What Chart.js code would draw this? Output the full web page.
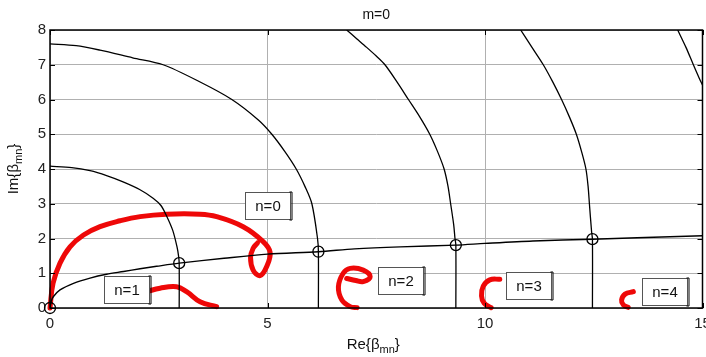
<!DOCTYPE html>
<html><head><meta charset="utf-8">
<script src="https://cdn.jsdelivr.net/npm/chart.js@4.4.1/dist/chart.umd.min.js"></script>
<style>html,body{margin:0;padding:0;background:#fff}#wrap{width:706px;height:357px}</style>
</head><body><div id="wrap"><canvas id="c" width="706" height="357"></canvas></div>
<script>
// ---- data ----
const titleText = 'm=0';
const xTicks = [0, 5, 10, 15];
const yTicks = [0, 1, 2, 3, 4, 5, 6, 7, 8];

const lowerX = [0, 0.03, 0.08, 0.23, 0.54, 0.92, 1.3, 1.69, 2.07, 2.45, 2.97, 4, 5, 6.17, 7, 8.05, 9.33, 10, 11.1, 12.47, 13.5, 15];
const lowerY = [0, 0.2, 0.33, 0.52, 0.71, 0.86, 0.97, 1.05, 1.13, 1.2, 1.29, 1.43, 1.55, 1.62, 1.7, 1.76, 1.81, 1.86, 1.93, 1.98, 2.02, 2.08];

const arc1X = [0, 0.5, 0.92, 1.3, 1.68, 2.06, 2.37, 2.55, 2.68, 2.82, 2.92, 2.955, 2.97, 2.97];
const arc1Y = [4.08, 4.04, 3.95, 3.81, 3.63, 3.41, 3.16, 2.95, 2.65, 2.24, 1.76, 1.5, 1.29, 0];

const arc2X = [0, 0.6, 1.15, 1.9, 2.6, 3.44, 4.18, 4.79, 5.1, 5.4, 5.66, 5.86, 6.02, 6.15, 6.17, 6.17];
const arc2Y = [7.6, 7.55, 7.42, 7.2, 7.0, 6.51, 6.0, 5.41, 5.0, 4.5, 4.0, 3.5, 3.0, 2.0, 1.62, 0];

const arc3X = [6.82, 7.05, 7.28, 7.5, 7.70, 7.98, 8.24, 8.5, 8.73, 8.91, 9.06, 9.15, 9.21, 9.28, 9.31, 9.33, 9.33];
const arc3Y = [8, 7.75, 7.5, 7.25, 7.0, 6.5, 6.0, 5.5, 5.0, 4.5, 4.0, 3.5, 3.0, 2.4, 2.0, 1.81, 0];

const arc4X = [10.82, 11.08, 11.34, 11.56, 11.76, 11.94, 12.10, 12.22, 12.32, 12.37, 12.40, 12.45, 12.47, 12.47];
const arc4Y = [8, 7.5, 7.0, 6.5, 6.0, 5.5, 5.0, 4.5, 4.0, 3.5, 3.0, 2.2, 1.98, 0];

const arc5X = [14.43, 14.62, 14.79, 14.93, 15];
const arc5Y = [8, 7.5, 7.0, 6.6, 6.42];

const markX = [0, 2.97, 6.17, 9.33, 12.47];
const markY = [0, 1.29, 1.62, 1.81, 1.98];

const labelTexts = ['n=1', 'n=0', 'n=2', 'n=3', 'n=4'];
const labelX = [1.25, 4.48, 7.55, 10.48, 13.62];
const labelY = [0.54, 2.96, 0.80, 0.66, 0.47];

// red hand-drawn marks
const red1X = [0, 0.07, 0.23, 0.46, 0.77, 1.15, 1.61, 2.07, 2.68, 3.45, 3.83, 4.44, 4.9, 5.06, 4.98, 4.83, 4.67, 4.61, 4.67, 4.77];
const red1Y = [0, 0.71, 1.29, 1.76, 2.1, 2.34, 2.51, 2.63, 2.7, 2.7, 2.63, 2.34, 1.91, 1.6, 1.19, 0.93, 1.09, 1.45, 1.72, 1.87];
const red2X = [2.22, 2.53, 2.91, 3.14, 3.45, 3.83];
const red2Y = [0.47, 0.57, 0.61, 0.47, 0.18, 0.04];
const red3X = [6.82, 7.03, 7.20, 7.36, 7.20, 6.90, 6.74, 6.63, 6.71, 6.90, 7.06];
const red3Y = [0.85, 0.79, 0.76, 0.90, 1.09, 1.14, 1.0, 0.61, 0.23, 0.04, 0.01];
const red4X = [10.34, 10.11, 9.96, 9.92, 9.98, 10.14];
const red4Y = [0.83, 0.81, 0.63, 0.35, 0.14, 0.01];
const red5X = [13.41, 13.22, 13.14, 13.18, 13.29];
const red5Y = [0.47, 0.40, 0.23, 0.09, 0.02];

const xTitle = ['Re{\u03b2', 'mn', '}'];
const yTitle = ['Im{\u03b2', 'mn', '}'];

// ---- build ----
const pts = (xs, ys) => xs.map((x, i) => ({x: x, y: ys[i]}));
const FONT = '"Liberation Sans", Arial, sans-serif';

function blackLine(xs, ys, w, t) {
  return {data: pts(xs, ys), showLine: true, borderColor: '#000', borderWidth: w,
          pointRadius: 0, tension: t, fill: false};
}
function redLine(xs, ys) {
  return {data: pts(xs, ys), showLine: true, borderColor: 'rgb(238,8,8)', borderWidth: 5,
          pointRadius: 0, tension: 0.4, fill: false, borderCapStyle: 'round', borderJoinStyle: 'round', clip: false};
}

const datasets = [
  blackLine(lowerX, lowerY, 1.4, 0.3),
  blackLine(arc1X, arc1Y, 1.3, 0.3),
  blackLine(arc2X, arc2Y, 1.3, 0.3),
  blackLine(arc3X, arc3Y, 1.3, 0.3),
  blackLine(arc4X, arc4Y, 1.3, 0.3),
  blackLine(arc5X, arc5Y, 1.3, 0.3),
  {data: pts(markX, markY), showLine: false, pointStyle: 'circle', pointRadius: 5.5,
   pointBorderColor: '#000', pointBackgroundColor: 'rgba(0,0,0,0)', pointBorderWidth: 1.3, clip: false},
  redLine(red1X, red1Y), redLine(red2X, red2Y), redLine(red3X, red3Y),
  redLine(red4X, red4Y), redLine(red5X, red5Y)
];

const decor = {
  id: 'decor',
  afterDatasetsDraw(chart) {
    const ctx = chart.ctx, a = chart.chartArea;
    const xs = chart.scales.x, ys = chart.scales.y;
    ctx.save();
    // axes box
    ctx.strokeStyle = '#000'; ctx.lineWidth = 1.5;
    ctx.strokeRect(a.left, a.top, a.right - a.left, a.bottom - a.top);
    // inward ticks
    ctx.lineWidth = 1;
    ctx.beginPath();
    xTicks.forEach(v => {
      const p = Math.round(xs.getPixelForValue(v)) + 0.5;
      ctx.moveTo(p, a.bottom); ctx.lineTo(p, a.bottom - 5);
      ctx.moveTo(p, a.top); ctx.lineTo(p, a.top + 5);
    });
    yTicks.forEach(v => {
      const p = Math.round(ys.getPixelForValue(v)) + 0.5;
      ctx.moveTo(a.left, p); ctx.lineTo(a.left + 5, p);
      ctx.moveTo(a.right, p); ctx.lineTo(a.right - 5, p);
    });
    ctx.stroke();
    // text boxes
    ctx.font = '15px ' + FONT;
    ctx.textBaseline = 'middle'; ctx.textAlign = 'center';
    labelTexts.forEach((t, i) => {
      const px = Math.round(xs.getPixelForValue(labelX[i])) + 0.5;
      const py = Math.round(ys.getPixelForValue(labelY[i]) - 13.5) + 0.5;
      const w = 45, h = 27;
      ctx.fillStyle = '#fff';
      ctx.fillRect(px, py, w, h);
      ctx.strokeStyle = '#555'; ctx.lineWidth = 1;
      ctx.strokeRect(px, py, w, h);
      ctx.strokeStyle = '#000';
      ctx.beginPath();
      ctx.moveTo(px + w - 1, py - 0.5); ctx.lineTo(px + w + 1.5, py - 0.5);
      ctx.lineTo(px + w + 1.5, py + h + 0.5); ctx.lineTo(px + w - 1, py + h + 0.5);
      ctx.stroke();
      ctx.fillStyle = '#111';
      ctx.fillText(t, px + w / 2, py + h / 2 + 1);
    });
    // title
    ctx.fillStyle = '#111';
    ctx.font = '14px ' + FONT;
    ctx.textBaseline = 'alphabetic';
    ctx.fillText(titleText, (a.left + a.right) / 2, 19);
    // axis titles with subscript
    function subText(parts, cx, base) {
      ctx.font = '15px ' + FONT;
      const w0 = ctx.measureText(parts[0]).width;
      ctx.font = '11px ' + FONT;
      const w1 = ctx.measureText(parts[1]).width;
      ctx.font = '15px ' + FONT;
      const w2 = ctx.measureText(parts[2]).width;
      let x = cx - (w0 + w1 + w2) / 2;
      ctx.textAlign = 'left';
      ctx.fillText(parts[0], x, base); x += w0;
      ctx.font = '11px ' + FONT;
      ctx.fillText(parts[1], x, base + 4); x += w1;
      ctx.font = '15px ' + FONT;
      ctx.fillText(parts[2], x, base);
    }
    subText(xTitle, (a.left + a.right) / 2 - 3, 349);
    ctx.save();
    ctx.translate(18, (a.top + a.bottom) / 2);
    ctx.rotate(-Math.PI / 2);
    subText(yTitle, 0, 0);
    ctx.restore();
    ctx.restore();
  }
};

new Chart(document.getElementById('c'), {
  type: 'scatter',
  data: {datasets: datasets},
  options: {
    responsive: false, animation: false, devicePixelRatio: 1,
    layout: {autoPadding: false, padding: {top: 30, right: 3.5, bottom: 0, left: 0}},
    plugins: {legend: {display: false}, tooltip: {enabled: false}, title: {display: false}},
    scales: {
      x: {type: 'linear', min: 0, max: 15,
          afterFit: s => { s.height = 49; s.paddingLeft = 0; s.paddingRight = 0; },
          afterBuildTicks: s => { s.ticks = xTicks.map(v => ({value: v})); },
          grid: {color: '#b0b0b0', lineWidth: 1, drawTicks: false},
          border: {display: false},
          ticks: {padding: 7, color: '#222', font: {size: 15, family: FONT}, maxRotation: 0}},
      y: {type: 'linear', min: 0, max: 8,
          afterFit: s => { s.width = 50; s.paddingTop = 0; s.paddingBottom = 0; },
          afterBuildTicks: s => { s.ticks = yTicks.map(v => ({value: v})); },
          grid: {color: '#b0b0b0', lineWidth: 1, drawTicks: false},
          border: {display: false},
          ticks: {padding: 4, color: '#222', font: {size: 15, family: FONT}}}
    }
  },
  plugins: [decor]
});
</script></body></html>
